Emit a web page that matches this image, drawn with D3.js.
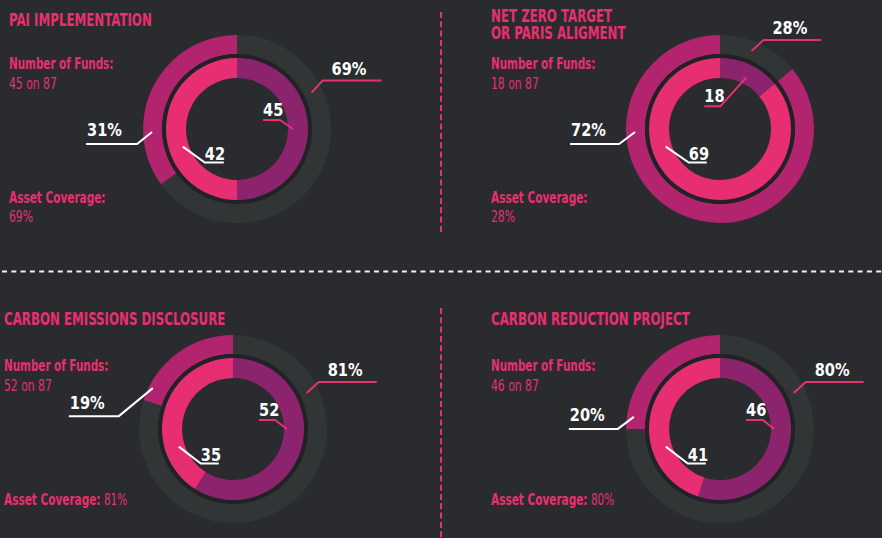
<!DOCTYPE html>
<html>
<head>
<meta charset="utf-8">
<script src="https://cdn.jsdelivr.net/npm/d3@7"></script>
<style>
html, body { margin: 0; background: #292b2e; }
svg { display: block; }
</style>
</head>
<body>
<div id="chart"></div>
<script>
"use strict"

/* data */
const titles = [["PAI IMPLEMENTATION"], ["NET ZERO TARGET", "OR PARIS ALIGMENT"], ["CARBON EMISSIONS DISCLOSURE"], ["CARBON REDUCTION PROJECT"]];
const totalFunds = 87;
const fundsYes = [45, 18, 52, 46];
const fundsNo = [42, 69, 35, 41];
const coverage = [69, 28, 81, 80];
const notCovered = [31, 72, 19, 20];
// share of the circle (%) the rings actually take in the original,
// the designer did not always follow the printed figure
const coverageArc = [65, 14, 80, 75];
const fundsYesArc = [50, 14, 59, 55];

const width = 882, height = 538;
const pink = "#e8306f", magenta = "#b2246e", purple = "#8b246c", grey = "#323535";
const font = "'DejaVu Sans Condensed', 'DejaVu Sans', sans-serif";

// where each panel sits
const panels = [
    {textX: 9, cx: 237, cy: 129, titleY: 26, fundsY: 69, coverY: 203, inline: false},
    {textX: 491, cx: 720, cy: 129, titleY: 22, fundsY: 69, coverY: 203, inline: false},
    {textX: 4, cx: 233, cy: 429, titleY: 325, fundsY: 371, coverY: 505, inline: true},
    {textX: 491, cx: 720, cy: 429, titleY: 325, fundsY: 371, coverY: 505, inline: true}
];

// leader lines: [angle on ring (deg clockwise from top), radius, elbow dx, elbow dy, horizontal run]
const leaders = [
    {cov: [64, 83, 11, -12, 59], not: [268, 85, -15, 12, -51], yes: [90, 56, -13, -9, -17], no: [252, 57, 22, 16, 19]},
    {cov: [22, 84, 12, -11, 58], not: [268, 85, -16, 12, -49], yes: [27, 58, -26, 29, -16], no: [252, 57, 23, 16, 18]},
    {cov: [64, 82, 12, -11, 58], not: [297, 90, -34, 28, -50], yes: [90, 54, -12, -9, -16], no: [252, 57, 22, 17, 18]},
    {cov: [64, 82, 12, -11, 58], not: [278, 87, -16, 12, -49], yes: [90, 54, -11, -9, -17], no: [252, 57, 22, 17, 18]}
];

let drawing = d3.select("#chart")
    .append("svg")
    .attr("width", width)
    .attr("height", height);

drawing.append("rect")
    .attr("width", width)
    .attr("height", height)
    .attr("fill", "#292b2e");

// separators
drawing.append("line")
    .attr("x1", 2).attr("x2", width)
    .attr("y1", 271.5).attr("y2", 271.5)
    .attr("stroke", "#f2f2f2")
    .attr("stroke-width", 2)
    .attr("stroke-dasharray", "5,4.3");

[[12, 234], [308, 538]].forEach(function (seg) {
    drawing.append("line")
        .attr("x1", 441).attr("x2", 441)
        .attr("y1", seg[0]).attr("y2", seg[1])
        .attr("stroke", pink)
        .attr("stroke-width", 2)
        .attr("stroke-dasharray", "6,3.3");
});

let pie = d3.pie().sort(null).value(d => d);
let outerArc = d3.arc().innerRadius(75).outerRadius(94);
let innerArc = d3.arc().innerRadius(51).outerRadius(71);
let gapArc = d3.arc().innerRadius(71).outerRadius(75).startAngle(0).endAngle(2 * Math.PI);

function polar(angle, r) {
    let a = angle * Math.PI / 180;
    return [Math.sin(a) * r, -Math.cos(a) * r];
}

// the original uses a condensed DIN face, squeeze the text to get close to it
function addText(parent, x, y, size, weight, squeeze) {
    return parent.append("text")
        .attr("transform", "translate(" + x + "," + y + ") scale(" + squeeze + ",1)")
        .attr("font-size", size)
        .attr("font-weight", weight);
}

function drawLeader(g, spec, label, color, pad, dy) {
    let p0 = polar(spec[0], spec[1]);
    let p1 = [p0[0] + spec[2], p0[1] + spec[3]];
    let p2 = [p1[0] + spec[4], p1[1]];
    g.append("polyline")
        .attr("points", [p0, p1, p2].map(p => p.join(",")).join(" "))
        .attr("fill", "none")
        .attr("stroke", color)
        .attr("stroke-width", 2);
    addText(g, Math.min(p1[0], p2[0]) + pad, p1[1] + dy, 18, "bold", 0.9)
        .attr("fill", "#ffffff")
        .attr("font-family", font)
        .text(label);
}

panels.forEach(function (p, i) {
    // left side texts
    let txt = drawing.append("g")
        .attr("font-family", font)
        .attr("fill", pink);

    // one text per title, extra lines as tspans
    let title = addText(txt, p.textX, p.titleY, 18, "bold", 0.73);
    title.selectAll("tspan")
        .data(titles[i])
        .join("tspan")
        .attr("x", 0)
        .attr("dy", (d, k) => k === 0 ? 0 : 17.5)
        .text(d => d);

    addText(txt, p.textX, p.fundsY, 15, "bold", 0.77)
        .text("Number of Funds:");
    addText(txt, p.textX, p.fundsY + 20, 15, "normal", 0.8)
        .text(fundsYes[i] + " on " + totalFunds);

    if (p.inline) {
        let cov = addText(txt, p.textX, p.coverY, 15, "normal", 0.78);
        cov.append("tspan").attr("font-weight", "bold").text("Asset Coverage:");
        cov.append("tspan").text(" " + coverage[i] + "%");
    } else {
        addText(txt, p.textX, p.coverY, 15, "bold", 0.78)
            .text("Asset Coverage:");
        addText(txt, p.textX, p.coverY + 19, 15, "normal", 0.8)
            .text(coverage[i] + "%");
    }

    // the rings
    let g = drawing.append("g")
        .attr("transform", "translate(" + p.cx + "," + p.cy + ")");

    g.selectAll(".outer")
        .data(pie([coverageArc[i], 100 - coverageArc[i]]))
        .join("path")
        .attr("d", outerArc)
        .attr("fill", (d, k) => k === 0 ? grey : magenta);

    g.append("path")
        .attr("d", gapArc())
        .attr("fill", "#212225");

    g.selectAll(".inner")
        .data(pie([fundsYesArc[i], 100 - fundsYesArc[i]]))
        .join("path")
        .attr("d", innerArc)
        .attr("fill", (d, k) => k === 0 ? purple : "#e72e72");

    // labels with leader lines
    let l = leaders[i];
    drawLeader(g, l.cov, coverage[i] + "%", pink, 9, -6);
    drawLeader(g, l.not, notCovered[i] + "%", "#ffffff", 1, -7.5);
    drawLeader(g, l.yes, fundsYes[i], pink, 0, -4);
    drawLeader(g, l.no, fundsNo[i], "#ffffff", 0, -3);
});
</script>
</body>
</html>
